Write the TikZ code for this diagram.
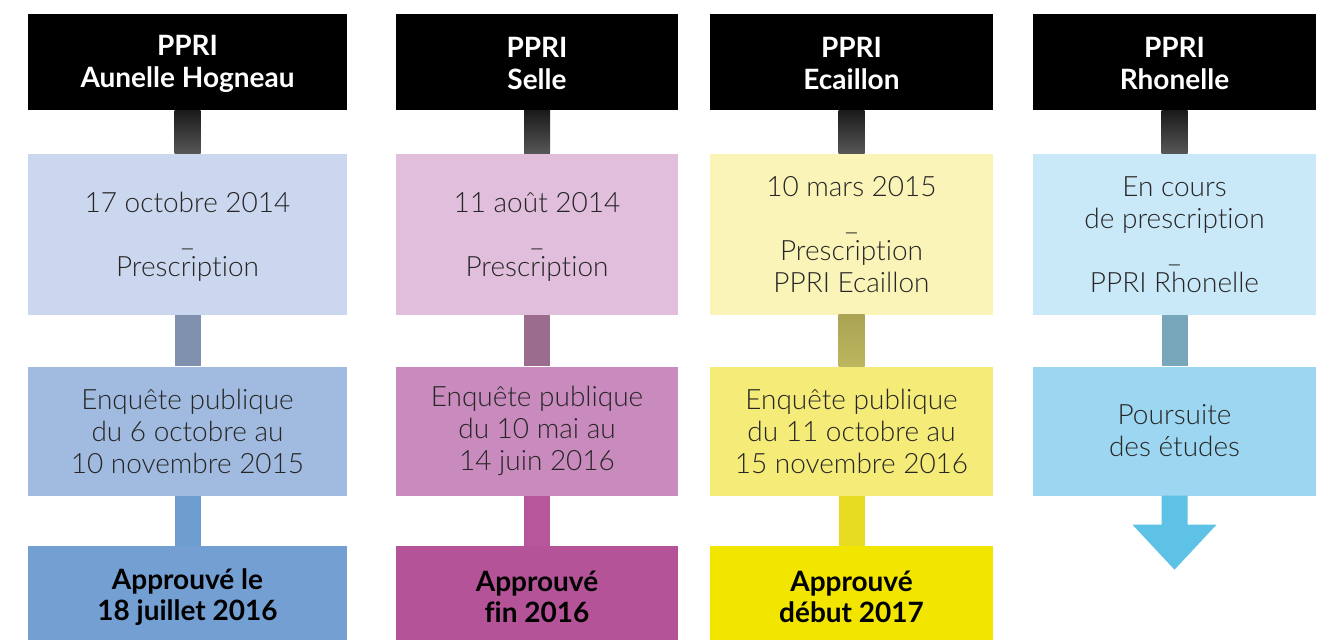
\documentclass[tikz,border=0pt]{standalone}
\usepackage{fontspec}
\setmainfont{Lato}[UprightFont=* Light, BoldFont=* Bold, Ligatures=NoCommon]
\usetikzlibrary{calc}
\definecolor{txt}{HTML}{262626}
\definecolor{aA}{HTML}{CBD7EE}\definecolor{aB}{HTML}{A0BAE0}\definecolor{aC}{HTML}{739FD2}
\definecolor{bA}{HTML}{E0BEDC}\definecolor{bB}{HTML}{C98ABD}\definecolor{bC}{HTML}{B55398}
\definecolor{cA}{HTML}{FAF4B8}\definecolor{cB}{HTML}{F5EB78}\definecolor{cC}{HTML}{F2E600}
\definecolor{dA}{HTML}{C9E8F8}\definecolor{dB}{HTML}{9CD6F0}\definecolor{dC}{HTML}{5EC2E7}
\definecolor{aL}{HTML}{7F91AE}\definecolor{bL}{HTML}{9C6C8F}\definecolor{cL}{HTML}{BDB65E}\definecolor{dL}{HTML}{78A6BA}
\definecolor{aM}{HTML}{6E9DD0}\definecolor{bM}{HTML}{B5579A}\definecolor{cM}{HTML}{E8DC22}
\begin{document}
\begin{tikzpicture}[x=1pt,y=-1pt,
  box/.style={rectangle, inner sep=0pt, align=center},
  hdr/.style={box, fill=black, text=white, minimum height=96, font=\bfseries\fontsize{28}{32}\selectfont},
  lvlA/.style={box, minimum height=161, text=txt, font=\fontsize{28}{32}\selectfont},
  lvlB/.style={box, minimum height=129, text=txt, font=\fontsize{28}{32}\selectfont},
  lvlC/.style={box, minimum height=94, text=black, font=\bfseries\fontsize{28}{31}\selectfont},
  wA/.style={minimum width=319}, wB/.style={minimum width=282}, wC/.style={minimum width=283}]
\useasboundingbox (0,0) rectangle (1325,640);
\newcommand{\dashline}{\raisebox{-13pt}[0pt][0pt]{--}}
\newcommand{\tA}{\rule{0pt}{26.7pt}}
\newcommand{\tAA}{\rule{0pt}{22pt}}
\newcommand{\tH}{\rule{0pt}{24.2pt}}
\newcommand{\tC}{\rule{0pt}{29pt}}
% headers
\node[hdr,wA] (h1) at (187.5,62) {\tH PPRI\\Aunelle Hogneau};
\node[hdr,wB] (h2) at (537,62) {\tH PPRI\\Selle};
\node[hdr,wC] (h3) at (851.5,62) {\tH PPRI\\Ecaillon};
\node[hdr,wC] (h4) at (1174.5,62) {\tH PPRI\\Rhonelle};
% level A
\node[lvlA,wA,fill=aA] (a1) at (187.5,234) {\tA 17 octobre 2014\\\dashline\\Prescription};
\node[lvlA,wB,fill=bA] (a2) at (537,234) {\tA 11 août 2014\\\dashline\\Prescription};
\node[lvlA,wC,fill=cA] (a3) at (851.5,234) {\tAA 10 mars 2015\\\dashline\\Prescription\\PPRI Ecaillon};
\node[lvlA,wC,fill=dA] (a4) at (1174.5,234) {\tAA En cours\\de prescription\\\dashline\\PPRI Rhonelle};
% level B
\node[lvlB,wA,fill=aB] (b1) at (187.5,431) {Enquête publique\\du 6 octobre au\\10 novembre 2015};
\node[lvlB,wB,fill=bB] (b2) at (537,431) {Enquête publique\\du 10 mai au\\14 juin 2016};
\node[lvlB,wC,fill=cB] (b3) at (851.5,431) {Enquête publique\\du 11 octobre au\\15 novembre 2016};
\node[lvlB,wC,fill=dB] (b4) at (1174.5,431) {Poursuite\\des études};
% level C
\node[lvlC,wA,fill=aC] (c1) at (187.5,593) {\tC Approuvé le\\18 juillet 2016};
\node[lvlC,wB,fill=bC] (c2) at (537,593) {\tC Approuvé\\fin 2016};
\node[lvlC,wC,fill=cC] (c3) at (851.5,593) {\tC Approuvé\\début 2017};
% connectors header -> A
\foreach \i in {1,2,3,4}{
  \shade[top color=black!90, bottom color=black!66] ($(h\i.south)+(-13,0)$) rectangle ($(a\i.north)+(13,0)$);
}
% connectors A -> B
\fill[aL] ($(a1.south)+(-13,0)$) rectangle ($(b1.north)+(13,0)$);
\fill[bL] ($(a2.south)+(-13,0)$) rectangle ($(b2.north)+(13,0)$);
\shade[top color=cL!90!black, bottom color=cL] ($(a3.south)+(-13,0)$) rectangle ($(b3.north)+(13,0)$);
\fill[dL] ($(a4.south)+(-13,0)$) rectangle ($(b4.north)+(13,0)$);
% connectors B -> C
\fill[aM] ($(b1.south)+(-13,0)$) rectangle ($(c1.north)+(13,0)$);
\fill[bM] ($(b2.south)+(-13,0)$) rectangle ($(c2.north)+(13,0)$);
\fill[cM] ($(b3.south)+(-13,0)$) rectangle ($(c3.north)+(13,0)$);
% arrow
\coordinate (tip) at ($(b4.south)+(0,74)$);
\fill[dC] ($(b4.south)+(-13,0)$) -- ($(b4.south)+(13,0)$) -- ($(b4.south)+(13,29)$) -- ($(b4.south)+(42,29)$) -- (tip) -- ($(b4.south)+(-42,29)$) -- ($(b4.south)+(-13,29)$) -- cycle;
\end{tikzpicture}
\end{document}
